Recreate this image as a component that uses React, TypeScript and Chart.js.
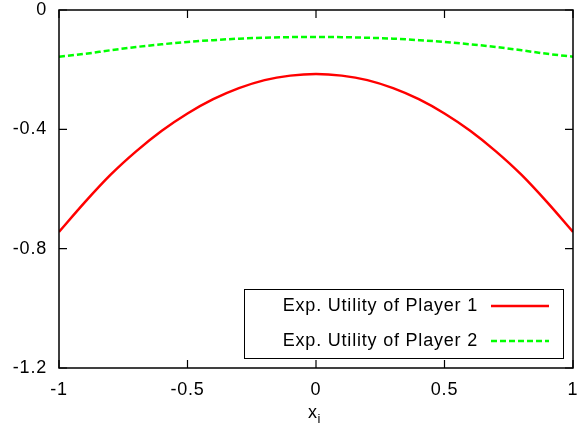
import React, { useEffect, useRef } from "react";
import { Chart, registerables } from "chart.js";

Chart.register(...registerables);

const xValues = [-1, -0.9, -0.8, -0.7, -0.6, -0.5, -0.4, -0.3, -0.2, -0.1, 0, 0.1, 0.2, 0.3, 0.4, 0.5, 0.6, 0.7, 0.8, 0.9, 1];
const player1 = [-0.744, -0.645, -0.553, -0.474, -0.405, -0.347, -0.299, -0.262, -0.235, -0.22, -0.2145, -0.22, -0.235, -0.262, -0.299, -0.347, -0.405, -0.474, -0.553, -0.645, -0.744];
const player2 = [-0.1565, -0.147, -0.135, -0.124, -0.115, -0.107, -0.101, -0.096, -0.093, -0.091, -0.0905, -0.091, -0.093, -0.096, -0.101, -0.107, -0.115, -0.124, -0.135, -0.147, -0.1565];
const seriesLabels = ["Exp. Utility of Player 1", "Exp. Utility of Player 2"];
const seriesColors = ["#ff0000", "#00ff00"];
const xTicks = [-1, -0.5, 0, 0.5, 1];
const yTicks = [0, -0.4, -0.8, -1.2];
const xTitle = "x";
const xTitleSub = "i";

const FONT_FAMILY = "'Liberation Sans', Arial, Helvetica, sans-serif";
const FONT_SIZE = 18;
const GREEN_DASH = [6, 3];

const framePlugin = {
  id: "gnuplotFrame",
  beforeDraw(chart: any) {
    chart.ctx.letterSpacing = "0.8px";
  },
  afterDraw(chart: any) {
    const ctx = chart.ctx as CanvasRenderingContext2D;
    const { left, right, top, bottom } = chart.chartArea;
    const xs = chart.scales.x;
    const ys = chart.scales.y;
    ctx.save();
    ctx.letterSpacing = "0px";
    // frame
    ctx.strokeStyle = "#000";
    ctx.lineWidth = 1.5;
    ctx.strokeRect(left, top, right - left, bottom - top);
    // inward ticks
    const tl = 8;
    ctx.lineWidth = 1.2;
    ctx.beginPath();
    xTicks.forEach((v) => {
      const px = xs.getPixelForValue(v);
      ctx.moveTo(px, bottom);
      ctx.lineTo(px, bottom - tl);
      ctx.moveTo(px, top);
      ctx.lineTo(px, top + tl);
    });
    yTicks.forEach((v) => {
      const py = ys.getPixelForValue(v);
      ctx.moveTo(left, py);
      ctx.lineTo(left + tl, py);
      ctx.moveTo(right, py);
      ctx.lineTo(right - tl, py);
    });
    ctx.stroke();

    // legend
    const bx1 = right - 10;
    const by1 = bottom - 10;
    const bx0 = bx1 - 319;
    const by0 = by1 - 69;
    ctx.fillStyle = "#fff";
    ctx.fillRect(bx0, by0, bx1 - bx0, by1 - by0);
    ctx.strokeStyle = "#000";
    ctx.lineWidth = 1;
    ctx.strokeRect(bx0 + 0.5, by0 + 0.5, bx1 - bx0, by1 - by0);
    ctx.font = `${FONT_SIZE}px ${FONT_FAMILY}`;
    ctx.letterSpacing = "0.8px";
    ctx.textAlign = "right";
    ctx.textBaseline = "middle";
    ctx.fillStyle = "#000";
    chart.data.datasets.forEach((ds: any, i: number) => {
      const cy = by0 + 17 + i * 35;
      ctx.fillText(ds.label, bx0 + 234, cy);
      ctx.save();
      ctx.strokeStyle = ds.borderColor;
      ctx.lineWidth = ds.borderWidth;
      ctx.setLineDash(ds.borderDash || []);
      ctx.beginPath();
      ctx.moveTo(bx0 + 247, cy);
      ctx.lineTo(bx0 + 305, cy);
      ctx.stroke();
      ctx.restore();
    });

    // x axis title with subscript
    ctx.letterSpacing = "0px";
    ctx.textAlign = "left";
    ctx.textBaseline = "alphabetic";
    const cx = (left + right) / 2;
    ctx.font = `${FONT_SIZE}px ${FONT_FAMILY}`;
    const wx = ctx.measureText(xTitle).width;
    ctx.fillText(xTitle, cx - wx + 1, 418);
    ctx.font = `${Math.round(FONT_SIZE * 0.7)}px ${FONT_FAMILY}`;
    ctx.fillText(xTitleSub, cx + 1.5, 423);
    ctx.restore();
  },
};

export default function App() {
  const canvasRef = useRef<HTMLCanvasElement | null>(null);

  useEffect(() => {
    if (!canvasRef.current) return;
    const chart = new Chart(canvasRef.current, {
      type: "line",
      data: {
        datasets: [
          {
            label: seriesLabels[0],
            data: xValues.map((x, i) => ({ x, y: player1[i] })),
            borderColor: seriesColors[0],
            borderWidth: 2.5,
            pointRadius: 0,
            cubicInterpolationMode: "monotone",
            fill: false,
          },
          {
            label: seriesLabels[1],
            data: xValues.map((x, i) => ({ x, y: player2[i] })),
            borderColor: seriesColors[1],
            borderWidth: 2.5,
            borderDash: GREEN_DASH,
            pointRadius: 0,
            cubicInterpolationMode: "monotone",
            fill: false,
          },
        ],
      },
      options: {
        animation: false,
        responsive: true,
        maintainAspectRatio: false,
        layout: { padding: { top: 10, right: 5, left: 0, bottom: 0 } },
        plugins: {
          legend: { display: false },
          tooltip: { enabled: false },
        },
        scales: {
          x: {
            type: "linear",
            min: -1,
            max: 1,
            grid: { display: false, drawTicks: false },
            border: { display: false },
            afterBuildTicks: (scale: any) => {
              scale.ticks = xTicks.map((v) => ({ value: v }));
            },
            afterFit: (scale: any) => {
              scale.height = 66;
              scale.paddingLeft = 0;
              scale.paddingRight = 0;
              scale.paddingTop = 0;
              scale.paddingBottom = 0;
            },
            ticks: {
              padding: 11,
              color: "#000",
              font: { family: FONT_FAMILY, size: FONT_SIZE },
              maxRotation: 0,
              callback: (v: any) => String(Number(v)),
            },
          },
          y: {
            type: "linear",
            min: -1.2,
            max: 0,
            grid: { display: false, drawTicks: false },
            border: { display: false },
            afterBuildTicks: (scale: any) => {
              scale.ticks = yTicks.map((v) => ({ value: v }));
            },
            afterFit: (scale: any) => {
              scale.width = 59;
              scale.paddingLeft = 0;
              scale.paddingRight = 0;
              scale.paddingTop = 0;
              scale.paddingBottom = 0;
            },
            ticks: {
              padding: 12,
              color: "#000",
              font: { family: FONT_FAMILY, size: FONT_SIZE },
              callback: (v: any) => String(Number(v)),
            },
          },
        },
      },
      plugins: [framePlugin],
    });
    return () => chart.destroy();
  }, []);

  return (
    <div style={{ position: "absolute", left: 0, top: 0, width: 578, height: 434, background: "#fff" }}>
      <canvas ref={canvasRef} />
    </div>
  );
}
